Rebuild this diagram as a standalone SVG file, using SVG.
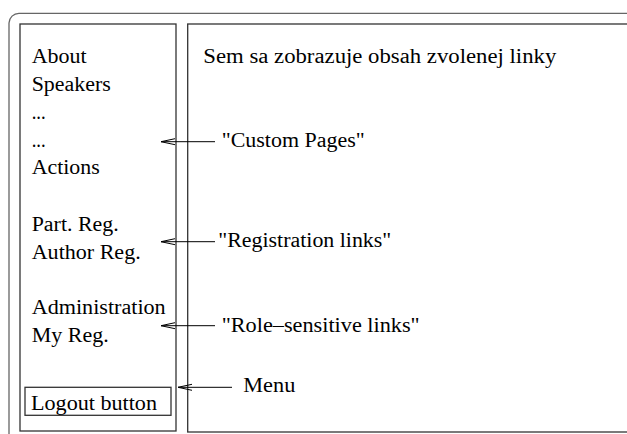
<svg xmlns="http://www.w3.org/2000/svg" width="627" height="434" viewBox="0 0 627 434">
<defs>
<style>
.t{font-family:"Liberation Serif","Times New Roman",serif;font-size:20px;fill:#000}
.frame{fill:none;stroke:#666;stroke-width:1.3}
.panel{fill:none;stroke:#333;stroke-width:1.3}
.conn{fill:none;stroke:#000;stroke-width:1}
</style>
<marker id="oa" viewBox="0 0 14 8" refX="14" refY="4" markerWidth="14" markerHeight="8" markerUnits="userSpaceOnUse" orient="auto">
<path d="M0 1 L14 4 L0 7" fill="none" stroke="#000" stroke-width="1"/>
</marker>
</defs>
<rect width="627" height="434" fill="#fff"/>
<g id="outer-frame">
<path class="frame" d="M9 440 V23 A10 10 0 0 1 19 13.3 H640"/>
</g>
<g id="menu-panel">
<rect class="panel" x="20" y="24" width="156" height="407"/>
<text class="t" x="31.7" y="62.7" textLength="55" lengthAdjust="spacingAndGlyphs">About</text>
<text class="t" x="31.7" y="90.7" textLength="79" lengthAdjust="spacingAndGlyphs">Speakers</text>
<text class="t" x="31.7" y="119" textLength="14" lengthAdjust="spacingAndGlyphs">...</text>
<text class="t" x="31.7" y="147.3" textLength="14" lengthAdjust="spacingAndGlyphs">...</text>
<text class="t" x="31.7" y="174.3" textLength="68" lengthAdjust="spacingAndGlyphs">Actions</text>
<text class="t" x="31.7" y="230.7" textLength="87" lengthAdjust="spacingAndGlyphs">Part. Reg.</text>
<text class="t" x="31.7" y="259" textLength="109" lengthAdjust="spacingAndGlyphs">Author Reg.</text>
<text class="t" x="31.7" y="314.3" textLength="134" lengthAdjust="spacingAndGlyphs">Administration</text>
<text class="t" x="31.7" y="341.7" textLength="77" lengthAdjust="spacingAndGlyphs">My Reg.</text>
</g>
<g id="logout-button">
<rect class="panel" x="25" y="387.3" width="146" height="28"/>
<text class="t" x="31" y="410" textLength="126" lengthAdjust="spacingAndGlyphs">Logout button</text>
</g>
<g id="content-panel">
<rect class="panel" x="187.7" y="24" width="460" height="408"/>
<text class="t" x="203.3" y="63" textLength="353" lengthAdjust="spacingAndGlyphs">Sem sa zobrazuje obsah zvolenej linky</text>
</g>
<g id="label-custom">
<text class="t" x="221.7" y="147" textLength="143" lengthAdjust="spacingAndGlyphs">"Custom Pages"</text>
</g>
<g id="label-registration">
<text class="t" x="218.3" y="246.7" textLength="173" lengthAdjust="spacingAndGlyphs">"Registration links"</text>
</g>
<g id="label-role">
<text class="t" x="221.7" y="331.7" textLength="198" lengthAdjust="spacingAndGlyphs">"Role–sensitive links"</text>
</g>
<g id="label-menu">
<text class="t" x="243.3" y="391.7" textLength="52" lengthAdjust="spacingAndGlyphs">Menu</text>
</g>
<g id="connectors">
<line class="conn" x1="215" y1="141.7" x2="161" y2="141.7" marker-end="url(#oa)"/>
<line class="conn" x1="215" y1="241.7" x2="161" y2="241.7" marker-end="url(#oa)"/>
<line class="conn" x1="215" y1="325.7" x2="161" y2="325.7" marker-end="url(#oa)"/>
<line class="conn" x1="232" y1="387.3" x2="178" y2="387.3" marker-end="url(#oa)"/>
</g>
</svg>
